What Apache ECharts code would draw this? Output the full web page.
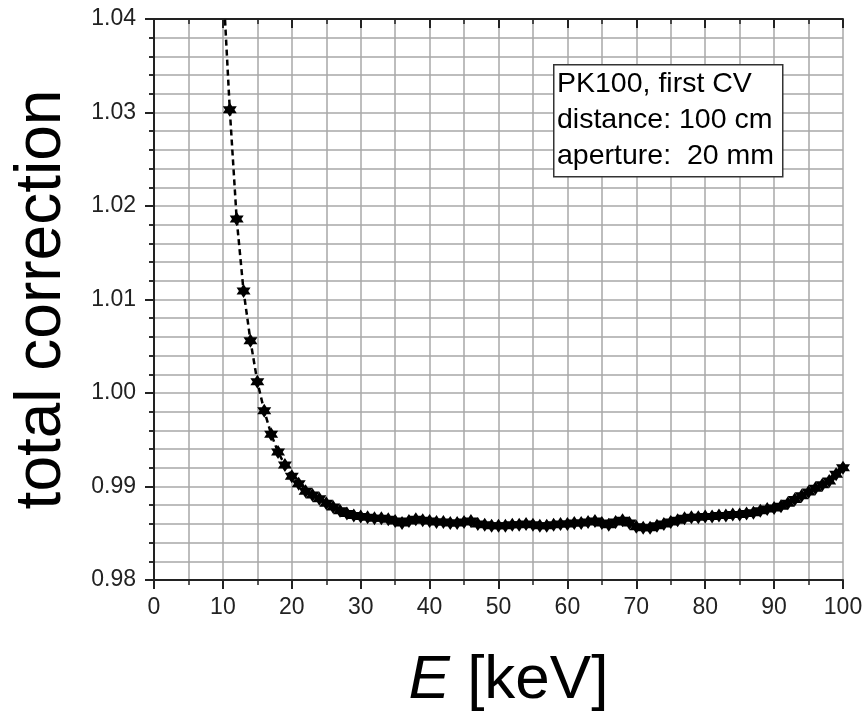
<!DOCTYPE html>
<html>
<head>
<meta charset="utf-8">
<script src="https://cdn.jsdelivr.net/npm/echarts@6/dist/echarts.min.js"></script>
<style>
  html, body { margin: 0; padding: 0; background: #fff; }
  #chart { width: 866px; height: 714px; }
</style>
</head>
<body>
<div id="chart"></div>
<script>
// photon energy, keV
const energy = [
  10, 11, 12, 13, 14, 15, 16, 17, 18, 19,
  20, 21, 22, 23, 24, 25, 26, 27, 28, 29,
  30, 31, 32, 33, 34, 35, 36, 37, 38, 39,
  40, 41, 42, 43, 44, 45, 46, 47, 48, 49,
  50, 51, 52, 53, 54, 55, 56, 57, 58, 59,
  60, 61, 62, 63, 64, 65, 66, 67, 68, 69,
  70, 71, 72, 73, 74, 75, 76, 77, 78, 79,
  80, 81, 82, 83, 84, 85, 86, 87, 88, 89,
  90, 91, 92, 93, 94, 95, 96, 97, 98, 99, 100
]
// total correction factor
const correction = [
  1.0442, 1.0303, 1.0186, 1.0109, 1.0056, 1.0012, 0.9981, 0.9956, 0.9937, 0.9923,
  0.9911, 0.9903, 0.9895, 0.9891, 0.9887, 0.9882, 0.9878, 0.9874, 0.9871, 0.9869,
  0.9868, 0.9867, 0.9866, 0.9866, 0.9865, 0.9863, 0.9861, 0.9863, 0.9865, 0.9864,
  0.9863, 0.9862, 0.9862, 0.9861, 0.9861, 0.9862, 0.9863, 0.9860, 0.9859, 0.9858,
  0.9858, 0.9858, 0.9859, 0.9859, 0.9860, 0.9859, 0.9858, 0.9858, 0.9859, 0.9860,
  0.9860, 0.9861, 0.9861, 0.9862, 0.9863, 0.9861, 0.9859, 0.9862, 0.9864, 0.9861,
  0.9857, 0.9856, 0.9856, 0.9858, 0.9860, 0.9862, 0.9864, 0.9866, 0.9867, 0.9867,
  0.9868, 0.9868, 0.9869, 0.9869, 0.9870, 0.9870, 0.9871, 0.9872, 0.9874, 0.9876,
  0.9877, 0.9879, 0.9882, 0.9886, 0.9890, 0.9894, 0.9898, 0.9902, 0.9906, 0.9913, 0.9920
]
const infoLines = ['PK100, first CV', 'distance: 100 cm', 'aperture:  20 mm']

const FONT = '"Liberation Sans", Arial, sans-serif'
const star = 'path://M0,-10L2.9,-5L8.66,-5L5.8,0L8.66,5L2.9,5L0,10L-2.9,5L-8.66,5L-5.8,0L-8.66,-5L-2.9,-5Z'

const chart = echarts.init(document.getElementById('chart'))

const gridLine = { show: true, lineStyle: { color: '#a8a8a8', width: 1.5 } }
const frameAxis = { show: true, lineStyle: { color: '#222', width: 2 } }
const majorTick = { show: true, length: 9, lineStyle: { color: '#222', width: 2 } }
const minorTickX = { show: true, splitNumber: 2, length: 5, lineStyle: { color: '#222', width: 1.5 } }
const minorTickY = { show: true, splitNumber: 5, length: 5, lineStyle: { color: '#222', width: 1.5 } }

chart.setOption({
  animation: false,
  backgroundColor: '#fff',
  grid: {
    left: 154, right: 23, top: 19, bottom: 134,
    containLabel: false, outerBoundsMode: 'none'
  },
  xAxis: [{
    type: 'value', min: 0, max: 100, interval: 10,
    axisLine: frameAxis,
    axisTick: majorTick,
    minorTick: minorTickX,
    splitLine: gridLine,
    minorSplitLine: gridLine,
    axisLabel: { fontFamily: FONT, fontSize: 23, color: '#222', margin: 16 },
    name: '{i|E} [keV]',
    nameLocation: 'middle',
    nameGap: 70,
    nameMoveOverlap: false,
    nameTextStyle: {
      fontFamily: FONT, fontSize: 62, color: '#000',
      padding: [0, 0, 0, 20],
      rich: { i: { fontFamily: FONT, fontSize: 62, fontStyle: 'italic', color: '#000' } }
    }
  }, {
    type: 'value', position: 'top', min: 0, max: 100, interval: 10,
    axisLine: frameAxis,
    axisTick: Object.assign({}, majorTick, { inside: true }),
    minorTick: minorTickX,
    axisLabel: { show: false },
    splitLine: { show: false }
  }],
  yAxis: [{
    type: 'value', min: 0.98, max: 1.04, interval: 0.01,
    axisLine: frameAxis,
    axisTick: majorTick,
    minorTick: minorTickY,
    splitLine: gridLine,
    minorSplitLine: gridLine,
    axisLabel: {
      fontFamily: FONT, fontSize: 23, color: '#222', margin: 18,
      formatter: (v) => v.toFixed(2)
    },
    name: 'total correction',
    nameLocation: 'middle',
    nameGap: 80,
    nameMoveOverlap: false,
    nameTextStyle: { fontFamily: FONT, fontSize: 64, color: '#000' }
  }, {
    type: 'value', position: 'right', min: 0.98, max: 1.04, interval: 0.01,
    axisLine: frameAxis,
    axisTick: Object.assign({}, majorTick, { inside: true }),
    minorTick: minorTickY,
    axisLabel: { show: false },
    splitLine: { show: false }
  }],
  series: [{
    type: 'line',
    data: energy.map((e, i) => [e, correction[i]]),
    clip: true,
    symbol: star,
    symbolSize: 14,
    showAllSymbol: true,
    itemStyle: { color: '#000' },
    lineStyle: { color: '#000', width: 2.5, type: [6, 4] },
    z: 5
  }],
  graphic: [{
    type: 'rect',
    left: 553, top: 64, z: 100,
    shape: { x: 0, y: 0, width: 229, height: 112 },
    style: { fill: '#fff', stroke: '#333', lineWidth: 1.5 }
  }].concat(infoLines.map((t, i) => ({
    type: 'text',
    x: 557, y: 84 + i * 36, z: 101,
    style: {
      text: t, fontFamily: FONT, fontSize: 28.5, fill: '#000',
      verticalAlign: 'middle'
    }
  })))
})
</script>
</body>
</html>
